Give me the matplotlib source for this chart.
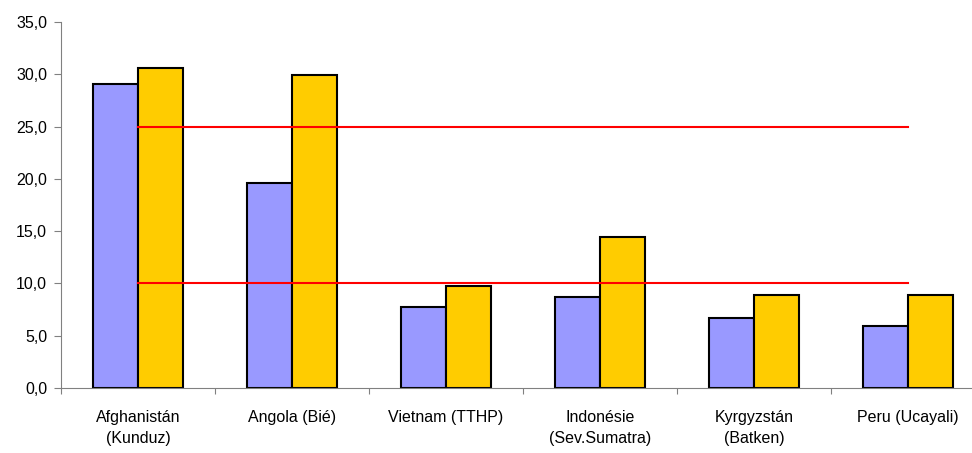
import numpy as np
import matplotlib.pyplot as plt
from matplotlib.ticker import FuncFormatter

plt.rcParams['font.family'] = ['Liberation Sans', 'DejaVu Sans']

# Data
categories = ["Afghanistán\n(Kunduz)", "Angola (Bié)", "Vietnam (TTHP)",
              "Indonésie\n(Sev.Sumatra)", "Kyrgyzstán\n(Batken)", "Peru (Ucayali)"]
series_a = [29.1, 19.6, 7.7, 8.7, 6.7, 5.9]
series_b = [30.6, 29.9, 9.8, 14.4, 8.9, 8.9]
limit_high = [25.0] * 6
limit_low = [10.0] * 6

fig = plt.figure(figsize=(9.72, 4.53), dpi=100)
ax = fig.add_axes([0.0628, 0.1435, 0.9506, 0.808])

x = np.arange(len(categories))
w = 0.29
ax.bar(x - w / 2, series_a, width=w, color="#9999FF", edgecolor="black", linewidth=1.5, zorder=2)
ax.bar(x + w / 2, series_b, width=w, color="#FFCC00", edgecolor="black", linewidth=1.5, zorder=2)
ax.plot(x, limit_high, color="#FF0000", linewidth=1.5, zorder=3)
ax.plot(x, limit_low, color="#FF0000", linewidth=1.5, zorder=3)

ax.set_xlim(-0.5, len(categories) - 0.5)
ax.set_ylim(0, 35)
ax.set_yticks(np.arange(0, 35.1, 5))
ax.yaxis.set_major_formatter(FuncFormatter(lambda v, p: f"{v:.1f}".replace(".", ",")))

ax.set_xticks(np.arange(len(categories) + 1) - 0.5)
ax.set_xticklabels([])
ax.set_xticks(x, minor=True)
ax.set_xticklabels(categories, minor=True, fontsize=11.5, linespacing=1.45)
ax.tick_params(axis="x", which="minor", length=0, pad=16)
ax.tick_params(axis="x", which="major", length=4, color="#808080", direction="out")
ax.tick_params(axis="y", length=5, color="#808080", labelsize=11.5, direction="out", pad=5)

for s in ["top", "right"]:
    ax.spines[s].set_visible(False)
for s in ["left", "bottom"]:
    ax.spines[s].set_color("#808080")

fig.savefig("out.png", dpi=100)
